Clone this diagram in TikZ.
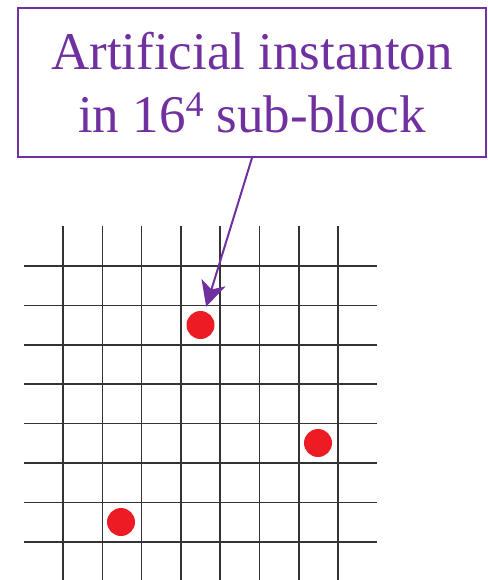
\documentclass[tikz,border=0pt]{standalone}
\usepackage{fontspec}
\setmainfont{Liberation Serif}
\usetikzlibrary{arrows.meta}
\definecolor{notepurple}{RGB}{112,48,160}
\definecolor{dotred}{RGB}{237,28,36}
\newcommand{\supfour}{\raisebox{16pt}{\fontsize{36}{36}\selectfont 4}}
\begin{document}
\begin{tikzpicture}[x=1pt, y=-1pt,
    gridline/.style={black!80, line width=1.6pt},
    notebox/.style={draw=notepurple, line width=1.8pt, text=notepurple,
        minimum width=468pt, minimum height=149pt, align=center,
        font=\fontsize{53}{63}\selectfont},
    instanton/.style={circle, fill=dotred, inner sep=0pt, minimum size=28pt},
    pointer/.style={-{Stealth[length=25pt, width=25pt, inset=7pt]}, notepurple,
        line width=2pt, shorten >=5pt}]
    \useasboundingbox (0,0) rectangle (487,580);
    % lattice
    \foreach \i in {0,...,7} {
        \draw[gridline] ({63+39.3*\i},226) -- ({63+39.3*\i},580);
        \draw[gridline] (24,{266+39.4*\i}) -- (377,{266+39.4*\i});
    }
    % instantons
    \node[instanton] (instA) at (200.5,325) {};
    \node[instanton] (instB) at (318,443) {};
    \node[instanton] (instC) at (121,522) {};
    % label
    \node[notebox] (note) at (252,82.5) {Artificial instanton\\in 16\supfour{} sub-block};
    \draw[pointer] (note.south) -- (instA);
\end{tikzpicture}
\end{document}
